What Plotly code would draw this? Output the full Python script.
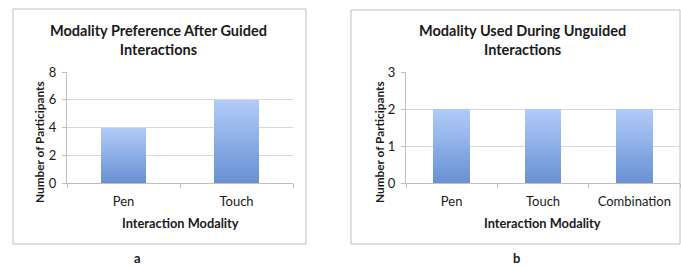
import plotly.graph_objects as go

# ---- data ----
categories_a = ["Pen", "Touch"]
values_a = [4, 6]
categories_b = ["Pen", "Touch", "Combination"]
values_b = [2, 2, 2]
title_a = "Modality Preference After Guided<br>Interactions"
title_b = "Modality Used During Unguided<br>Interactions"
yticks_a = [0, 2, 4, 6, 8]
yticks_b = [0, 1, 2, 3]
x_title = "Interaction Modality"
y_title = "Number of Participants"
panel_labels = ["a", "b"]

W, H = 681, 266
FONT = "Lato"
TXT = "#1a1a1a"
GRID = "#d9d9d9"
AXIS = "#bfbfbf"

def px(x):
    return x / W

def py(y):
    return 1 - y / H

# gradient colours (bottom -> top)
c_bot = (104, 144, 212)
c_top = (178, 204, 248)
N = 24

fig = go.Figure()
for i in range(N):
    t = (i + 0.5) / N
    col = "rgb(%d,%d,%d)" % tuple(round(c_bot[k] + (c_top[k] - c_bot[k]) * t) for k in range(3))
    fig.add_trace(go.Bar(x=categories_a, y=[v / N for v in values_a], xaxis="x", yaxis="y",
                         marker=dict(color=col, line=dict(width=0)), showlegend=False,
                         hoverinfo="skip"))
    fig.add_trace(go.Bar(x=categories_b, y=[v / N for v in values_b], xaxis="x2", yaxis="y2",
                         marker=dict(color=col, line=dict(width=0)), showlegend=False,
                         hoverinfo="skip"))

y_dom = [py(183), py(72)]
xax = dict(type="category", showgrid=False, showline=True, linecolor=AXIS, linewidth=1,
           ticks="outside", tickson="boundaries", ticklen=4, tickcolor=AXIS,
           tickfont=dict(family=FONT, size=13, color=TXT), ticklabelstandoff=6,
           fixedrange=True, automargin=False)
yax = dict(showgrid=True, gridcolor=GRID, gridwidth=1, showline=True, linecolor=AXIS,
           linewidth=1, ticks="outside", ticklen=4, tickcolor=AXIS, zeroline=False,
           tickfont=dict(family=FONT, size=13, color=TXT), ticklabelstandoff=3,
           fixedrange=True, automargin=False)

fig.update_layout(
    width=W, height=H, margin=dict(l=0, r=0, t=0, b=0, autoexpand=False),
    paper_bgcolor="white", plot_bgcolor="white",
    barmode="stack", bargap=0.6,
    xaxis=dict(domain=[px(67), px(293)], anchor="y", **xax),
    yaxis=dict(domain=y_dom, anchor="x", range=[0, 8], tickvals=yticks_a, **yax),
    xaxis2=dict(domain=[px(406), px(680)], anchor="y2", **xax),
    yaxis2=dict(domain=y_dom, anchor="x2", range=[0, 3], tickvals=yticks_b, **yax),
    showlegend=False,
)

# frames around each chart
fig.add_shape(type="rect", xref="paper", yref="paper", x0=px(13), x1=px(306), y0=py(244), y1=py(9),
              line=dict(color=AXIS, width=1), layer="below")
fig.add_shape(type="rect", xref="paper", yref="paper", x0=px(351), x1=px(680), y0=py(244), y1=py(10),
              line=dict(color=AXIS, width=1), layer="below")

bold = dict(family=FONT, size=14.5, color=TXT)
ann = []
for title, cx in [(title_a, 158), (title_b, 522)]:
    ann.append(dict(text="<b>%s</b>" % title, x=px(cx), y=py(40), xref="paper", yref="paper",
                    showarrow=False, font=bold, xanchor="center", yanchor="middle"))
for cx in [180, 542]:
    ann.append(dict(text="<b>%s</b>" % x_title, x=px(cx), y=py(223), xref="paper", yref="paper",
                    showarrow=False, font=dict(family=FONT, size=12.8, color=TXT),
                    xanchor="center", yanchor="middle"))
for cx in [39, 379]:
    ann.append(dict(text="<b>%s</b>" % y_title, x=px(cx), y=py(142), xref="paper", yref="paper",
                    showarrow=False, textangle=-90, font=dict(family=FONT, size=11.8, color=TXT),
                    xanchor="center", yanchor="middle"))
for lab, cx in zip(panel_labels, [137, 516]):
    ann.append(dict(text="<b>%s</b>" % lab, x=px(cx), y=py(258), xref="paper", yref="paper",
                    showarrow=False, font=dict(family=FONT, size=13, color=TXT),
                    xanchor="center", yanchor="middle"))
fig.update_layout(annotations=ann)

fig.write_html("out.html", config={"displayModeBar": False},
               post_script="document.body.style.margin='0';document.body.style.overflow='hidden';")
